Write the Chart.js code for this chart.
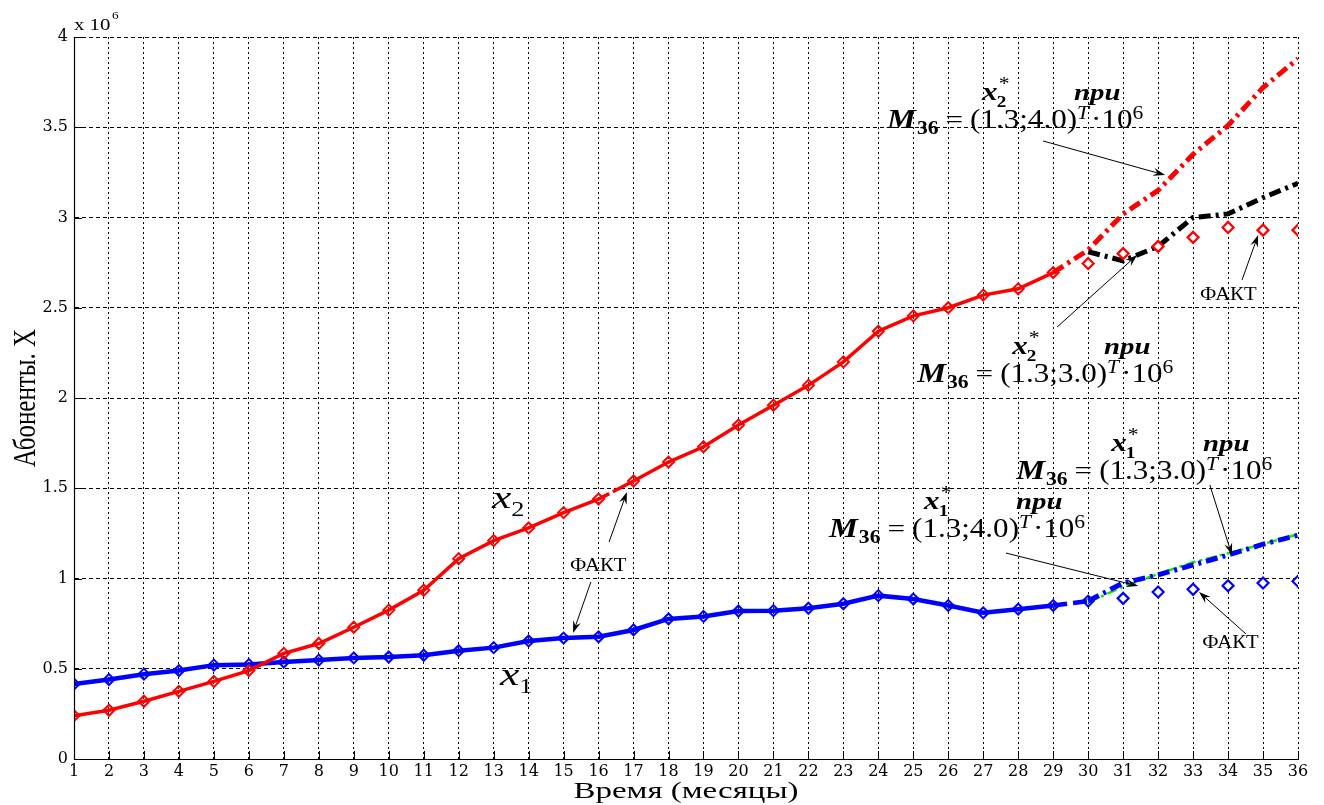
<!DOCTYPE html>
<html><head><meta charset="utf-8">
<script src="https://cdn.jsdelivr.net/npm/chart.js@4.4.1/dist/chart.umd.min.js"></script>
<style>html,body{margin:0;padding:0;background:#fff;}</style>
</head><body>
<canvas id="c" width="1324" height="805"></canvas>
<script>
// ---------- data ----------
const months = [1,2,3,4,5,6,7,8,9,10,11,12,13,14,15,16,17,18,19,20,21,22,23,24,25,26,27,28,29,30,31,32,33,34,35,36];
const yTickLabels = ['0','0.5','1','1.5','2','2.5','3','3.5','4'];
// x2 (red) — actual, months 1..29
const x2Actual = [0.24,0.27,0.32,0.375,0.43,0.49,0.585,0.64,0.73,0.825,0.935,1.11,1.21,1.28,1.365,1.44,1.54,1.645,1.73,1.85,1.96,2.07,2.20,2.37,2.455,2.50,2.57,2.605,2.695];
// x2 fact, months 30..36
const x2Fact = [2.745,2.80,2.84,2.89,2.945,2.93,2.93];
// x2* forecast with M36=(1.3;4.0), months 29..36
const x2ForecastM4 = [2.695,2.82,3.02,3.15,3.35,3.51,3.72,3.88];
// x2* forecast with M36=(1.3;3.0), months 30..36
const x2ForecastM3 = [2.81,2.76,2.84,3.00,3.02,3.11,3.19];
// x1 (blue) — actual, months 1..30
const x1Actual = [0.415,0.44,0.47,0.49,0.52,0.523,0.537,0.548,0.56,0.565,0.575,0.60,0.617,0.654,0.67,0.677,0.715,0.776,0.79,0.82,0.822,0.835,0.86,0.905,0.886,0.85,0.81,0.83,0.85,0.875];
// x1 fact, months 31..36
const x1Fact = [0.89,0.925,0.94,0.96,0.975,0.985];
// x1* forecast with M36=(1.3;4.0), months 30..36
const x1ForecastM4 = [0.875,0.975,1.02,1.075,1.13,1.19,1.24];
// x1* forecast with M36=(1.3;3.0), months 30..36
const x1ForecastM3 = [0.868,0.955,1.025,1.09,1.14,1.19,1.245];

function pts(xs, ys){ return ys.map((v,i)=>({x:xs[i], y:v})); }

// ---------- annotations (data coordinates) ----------
const formulas = [
  {x:24.25, y:3.496, sub:'2', vec:'(1.3;4.0)'},
  {x:25.11, y:2.089, sub:'2', vec:'(1.3;3.0)'},
  {x:27.94, y:1.551, sub:'1', vec:'(1.3;3.0)'},
  {x:22.59, y:1.230, sub:'1', vec:'(1.3;4.0)'}
];
const arrows = [
  [28.71,3.424, 32.20,3.235],
  [29.11,2.393, 31.40,2.792],
  [33.48,1.518, 34.11,1.130],
  [27.65,1.141, 31.43,0.958],
  [34.51,0.693, 33.17,0.925],
  [34.40,2.654, 34.86,2.903],
  [16.30,1.202, 16.81,1.479],
  [15.78,0.981, 15.27,0.698]
];
const factLabels = [[15.18,1.042],[33.20,2.543],[33.26,0.615]];
const seriesLabels = [{x:12.95,y:1.391,sub:'2'},{x:13.18,y:0.410,sub:'1'}];

const SERIF = '"Liberation Serif", "Times New Roman", serif';

function T(ctx, s, x, y, font, sx){
  ctx.save(); ctx.font = font; ctx.translate(x, y); ctx.scale(sx, 1);
  ctx.fillText(s, 0, 0);
  const w = ctx.measureText(s).width * sx;
  ctx.restore(); return w;
}
function drawArrow(ctx, x1, y1, x2, y2){
  const a = Math.atan2(y2-y1, x2-x1), L = 12, H = 4;
  ctx.save(); ctx.strokeStyle = '#000'; ctx.fillStyle = '#000'; ctx.lineWidth = 1;
  ctx.beginPath(); ctx.moveTo(x1,y1); ctx.lineTo(x2 - L*0.6*Math.cos(a), y2 - L*0.6*Math.sin(a)); ctx.stroke();
  ctx.beginPath(); ctx.moveTo(x2,y2);
  ctx.lineTo(x2 - L*Math.cos(a) + H*Math.sin(a), y2 - L*Math.sin(a) - H*Math.cos(a));
  ctx.lineTo(x2 - L*0.65*Math.cos(a), y2 - L*0.65*Math.sin(a));
  ctx.lineTo(x2 - L*Math.cos(a) - H*Math.sin(a), y2 - L*Math.sin(a) + H*Math.cos(a));
  ctx.closePath(); ctx.fill(); ctx.restore();
}
function drawFormula(ctx, x, y, sub, vec){
  const S = 1.2;
  let cx = x;
  cx += T(ctx,'M',cx,y,`bold italic 27px ${SERIF}`,S);
  cx += T(ctx,'36',cx+1,y+6,`bold 18px ${SERIF}`,S) + 1;
  cx += 7;
  cx += T(ctx,'=',cx,y,`26px ${SERIF}`,S);
  cx += 7;
  const p0 = cx;
  cx += T(ctx,vec,cx,y,`27px ${SERIF}`,1.15);
  const p1 = cx;
  cx += T(ctx,'T',cx,y-9,`italic 18px ${SERIF}`,S);
  cx += T(ctx,'\u00B710',cx+2,y,`27px ${SERIF}`,1.15) + 2;
  T(ctx,'6',cx,y-9,`18px ${SERIF}`,S);
  const lx = p0 + 12, ly = y - 28;
  const wx = T(ctx,'x',lx,ly,`bold italic 26px ${SERIF}`,S);
  T(ctx,sub,lx+wx-1,ly+7,`bold 16px ${SERIF}`,S);
  T(ctx,'*',lx+wx+1,ly-10,`18px ${SERIF}`,S);
  T(ctx,'при',p1-3,ly,`bold italic 24px ${SERIF}`,S);
}

const decor = {
  id: 'decor',
  afterDraw(chart){
    const ctx = chart.ctx, xs = chart.scales.x, ys = chart.scales.y, a = chart.chartArea;
    const X = v => xs.getPixelForValue(v), Y = v => ys.getPixelForValue(v);
    ctx.save();
    ctx.fillStyle = '#000'; ctx.textAlign = 'left'; ctx.textBaseline = 'alphabetic';
    // axis lines + inward ticks
    ctx.strokeStyle = '#000'; ctx.lineWidth = 1.2; ctx.setLineDash([]);
    ctx.beginPath(); ctx.moveTo(a.left+0.5, a.top); ctx.lineTo(a.left+0.5, a.bottom+0.5); ctx.lineTo(a.right, a.bottom+0.5); ctx.stroke();
    ctx.lineWidth = 1;
    ctx.beginPath();
    months.forEach(m => { const px = Math.round(X(m))+0.5; ctx.moveTo(px, a.bottom); ctx.lineTo(px, a.bottom-8); });
    yTickLabels.forEach((t,i) => { const py = Math.round(Y(i*0.5))+0.5; ctx.moveTo(a.left, py); ctx.lineTo(a.left+8, py); });
    ctx.stroke();
    // x 10^6
    T(ctx,'x 10',a.left,30,`16px ${SERIF}`,1.3);
    T(ctx,'6',a.left+38,19,`11px ${SERIF}`,1.2);
    // axis titles
    ctx.save(); ctx.font = `24px ${SERIF}`;
    const xt = 'Время (месяцы)'; const wxt = ctx.measureText(xt).width; const sxt = 225 / wxt;
    ctx.restore();
    T(ctx, xt, (a.left+a.right)/2 - 112.5, 798, `24px ${SERIF}`, sxt);
    ctx.save(); ctx.translate(35, (a.top+a.bottom)/2); ctx.rotate(-Math.PI/2); ctx.scale(1, 1.3);
    ctx.font = `25px ${SERIF}`; const yt = 'Абоненты. X'; const wyt = ctx.measureText(yt).width;
    T(ctx, yt, -wyt/2, 0, `25px ${SERIF}`, 1);
    ctx.restore();
    // series labels x2, x1
    seriesLabels.forEach(l => {
      const px = X(l.x), py = Y(l.y);
      const w = T(ctx,'x',px,py,`italic 31px ${SERIF}`,1.4);
      T(ctx,l.sub,px+w,py+8,`21px ${SERIF}`,1.25);
    });
    // ФАКТ labels
    factLabels.forEach(f => T(ctx,'ФАКТ',X(f[0]),Y(f[1]),`18px ${SERIF}`,1.15));
    // arrows
    arrows.forEach(r => drawArrow(ctx, X(r[0]), Y(r[1]), X(r[2]), Y(r[3])));
    // formulas
    formulas.forEach(f => drawFormula(ctx, X(f.x), Y(f.y), f.sub, f.vec));
    ctx.restore();
  }
};

const lineBase = {pointStyle:'rectRot', pointRadius:5.5, pointHoverRadius:5.5, pointBorderWidth:2, pointBackgroundColor:'rgba(0,0,0,0)', tension:0, fill:false};
const factBase = {showLine:false, pointStyle:'rectRot', pointRadius:5.5, pointHoverRadius:5.5, pointBorderWidth:2.2, pointBackgroundColor:'#fff'};
const fcBase = {pointRadius:0, borderWidth:5, borderDash:[12,5,3,5], borderCapStyle:'butt', tension:0, fill:false};

new Chart(document.getElementById('c'), {
  type: 'line',
  data: {
    datasets: [
      Object.assign({label:'x2 fact', data: pts(months.slice(29), x2Fact), borderColor:'#ff0000', pointBorderColor:'#ff0000', order:0}, factBase),
      Object.assign({label:'x1 fact', data: pts(months.slice(30), x1Fact), borderColor:'#0000ff', pointBorderColor:'#0000ff', order:0}, factBase),
      Object.assign({label:'x2* M4', data: pts(months.slice(28), x2ForecastM4), borderColor:'#ff0000', order:2}, fcBase),
      Object.assign({label:'x2* M3', data: pts(months.slice(29), x2ForecastM3), borderColor:'#000000', order:1}, fcBase),
      Object.assign({label:'x1* M4', data: pts(months.slice(29), x1ForecastM4), borderColor:'#0000ff', order:1}, fcBase),
      Object.assign({label:'x1* M3', data: pts(months.slice(29), x1ForecastM3), borderColor:'#00ee00', order:3}, fcBase, {borderWidth:2.5, borderDash:[10,4,3,4]}),
      Object.assign({label:'x2', data: pts(months.slice(0,29), x2Actual), borderColor:'#ff0000', pointBorderColor:'#ff0000', borderWidth:3.5, order:1,
        segment:{borderDash: c => c.p0.parsed.x === 16 ? [12,4,60,0] : undefined}}, lineBase),
      Object.assign({label:'x1', data: pts(months.slice(0,30), x1Actual), borderColor:'#0000ff', pointBorderColor:'#0000ff', borderWidth:4.5, order:1,
        segment:{borderDash: c => c.p0.parsed.x === 29 ? [14,6] : undefined}}, lineBase)
    ]
  },
  options: {
    responsive:false, animation:false, devicePixelRatio:1,
    layout:{padding:{left:0, right:26, top:37, bottom:0}},
    plugins:{legend:{display:false}, tooltip:{enabled:false}},
    scales:{
      x:{type:'linear', min:1, max:36,
        afterFit: s => { s.height = 46; },
        ticks:{stepSize:1, autoSkip:false, maxRotation:0, padding:3, color:'#000',
          font:{family:'"DejaVu Serif", serif', size:16}, callback: v => String(v)},
        grid:{color:'#000', lineWidth:1, drawTicks:false},
        border:{display:true, color:'#000', width:1, dash:[2,3]}},
      y:{min:0, max:4,
        afterFit: s => { s.width = 74; },
        ticks:{stepSize:0.5, padding:6, color:'#000',
          font:{family:'"DejaVu Serif", serif', size:16}, callback: (v,i) => yTickLabels[i]},
        grid:{color:'#000', lineWidth:1, drawTicks:false},
        border:{display:true, color:'#000', width:1, dash:[4,3]}}
    }
  },
  plugins:[decor]
});
</script>
</body></html>
